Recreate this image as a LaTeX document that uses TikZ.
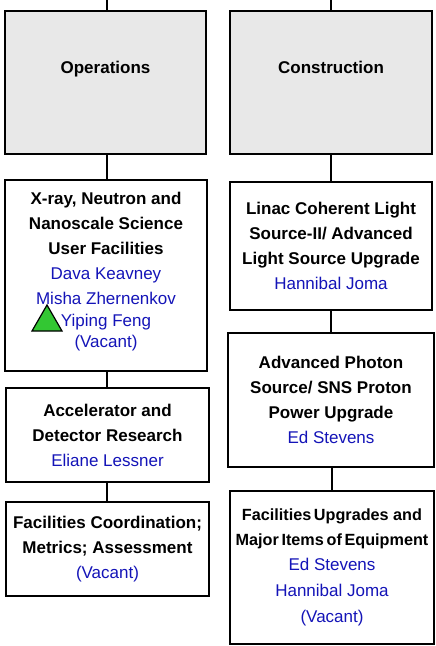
\documentclass[tikz,border=0pt]{standalone}
\usepackage{fontspec}
\setmainfont{Liberation Sans}
\usepackage{xcolor}
\definecolor{dkblue}{rgb}{0.08,0.08,0.72}
\definecolor{boxgray}{rgb}{0.91,0.91,0.91}
\definecolor{markgreen}{rgb}{0.2,0.78,0.2}
\newcommand{\person}[1]{{\color{dkblue}\mdseries #1}}
\newcommand{\tight}[1]{{\fontsize{16.2}{25}\selectfont #1}}

\begin{document}
\begin{tikzpicture}[x=1pt,y=-1pt,
  unit/.style={draw,line width=2.5pt,fill=white,align=center,inner sep=2pt,
    font=\fontsize{17}{25}\selectfont\bfseries},
  link/.style={line width=2pt}]
\useasboundingbox (0,0) rectangle (436,646);

% top level
\draw (105.5,82.5) node[unit,fill=boxgray,minimum width=201pt,minimum height=143pt,text depth=30pt] (ops) {Operations};
\draw (331,82.5) node[unit,fill=boxgray,minimum width=202pt,minimum height=143pt,text depth=30pt] (con) {Construction};
\coordinate (opsin) at (107,0);
\coordinate (conin) at (331,0);
\draw[link] (opsin) -- (opsin |- ops.north);
\draw[link] (conin) -- (conin |- con.north);

% operations column
\draw (106,275.5) node[unit,minimum width=202pt,minimum height=191pt,text depth=12pt] (xray) {X-ray, Neutron and\\Nanoscale Science\\User Facilities\\\person{Dava Keavney}\\\person{Misha Zhernenkov}\\[-3pt]\person{Yiping Feng}\\[-4pt]\person{(Vacant)}};
\draw (107.5,435) node[unit,minimum width=203pt,minimum height=94pt] (acc) {Accelerator and\\Detector Research\\\person{Eliane Lessner}};
\draw (107.5,549) node[unit,minimum width=203pt,minimum height=94pt] (fcm) {Facilities Coordination;\\Metrics; Assessment\\\person{(Vacant)}};

% construction column
\draw (331,246) node[unit,minimum width=202pt,minimum height=128pt] (lcls) {Linac Coherent Light\\Source-II/ Advanced\\Light Source Upgrade\\\person{Hannibal Joma}};
\draw (331,400) node[unit,minimum width=206pt,minimum height=134pt] (aps) {Advanced Photon\\Source/ SNS Proton\\Power Upgrade\\\person{Ed Stevens}};
\draw (332,567.5) node[unit,minimum width=204pt,minimum height=153pt] (fue) {\tight{Facilities\,Upgrades and}\\\tight{Major\,Items\,of\,Equipment}\\\person{Ed Stevens}\\[1pt]\person{Hannibal Joma}\\[1pt]\person{(Vacant)}};

\draw[link] (ops.south -| opsin) -- (opsin |- xray.north);
\draw[link] (xray.south -| opsin) -- (opsin |- acc.north);
\draw[link] (acc.south -| opsin) -- (opsin |- fcm.north);
\draw[link] (con.south -| conin) -- (conin |- lcls.north);
\draw[link] (lcls.south) -- (lcls.south |- aps.north);
\draw[link] (aps.south -| fue.north) -- (fue.north);

% green mark
\draw[line width=1.2pt,fill=markgreen] (47,305) -- (32,331) -- (62,331) -- cycle;

\end{tikzpicture}
\end{document}
